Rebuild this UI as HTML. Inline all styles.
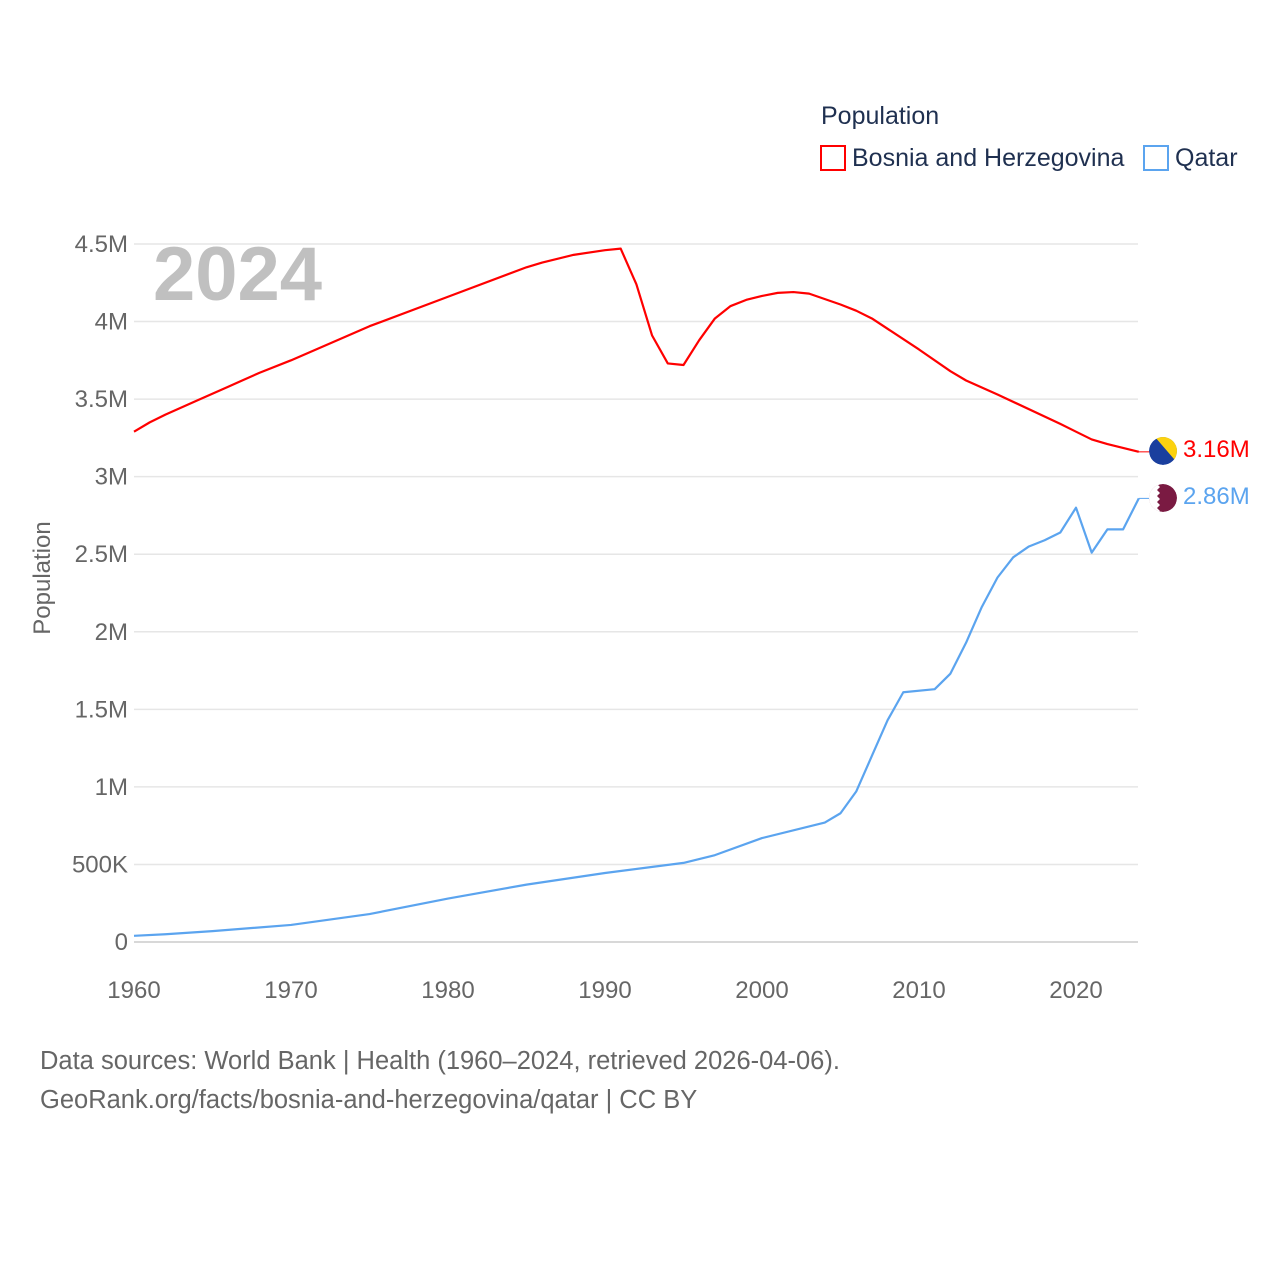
<!DOCTYPE html>
<html><head><meta charset="utf-8"><style>
body{margin:0;background:#fff;font-family:"Liberation Sans",sans-serif}
</style></head><body>
<svg width="1280" height="1280" viewBox="0 0 1280 1280" id="chart" style="font-family:'Liberation Sans',sans-serif">
<text x="821" y="124" font-size="25" fill="#1f3050">Population</text>
<g><rect x="821" y="146" width="24" height="24" fill="none" stroke="#ff0000" stroke-width="2"/><text x="852" y="166" font-size="25" fill="#1f3050">Bosnia and Herzegovina</text></g>
<g><rect x="1144" y="146" width="24" height="24" fill="none" stroke="#5ba4ef" stroke-width="2"/><text x="1175" y="166" font-size="25" fill="#1f3050">Qatar</text></g>
<text x="153" y="300" font-size="76" font-weight="bold" fill="#c0c0c0">2024</text>
<text transform="translate(50,578) rotate(-90)" text-anchor="middle" font-size="24" fill="#666">Population</text>
<g id="grid"></g><g id="series"></g>
<clipPath id="c1"><circle cx="1163" cy="451" r="14"/></clipPath>
<clipPath id="c2"><circle cx="1163" cy="498" r="14"/></clipPath>
<g clip-path="url(#c1)"><circle cx="1163" cy="451" r="14" fill="#1a3f9e"/><path d="M1155 437 L1180 437 L1180 466 Z" fill="#fcd20f"/></g>
<g clip-path="url(#c2)"><circle cx="1163" cy="498" r="14" fill="#7a1a42"/><path d="M1149 484 L1157 484 L1160 487 L1157 490 L1160 493 L1157 496 L1160 499 L1157 502 L1160 505 L1157 508 L1160 511 L1157 514 L1149 514 Z" fill="#fff"/></g>
<text x="1183" y="457" font-size="24" fill="#ff0000">3.16M</text>
<text x="1183" y="504" font-size="24" fill="#5ba4ef">2.86M</text>
<text x="40" y="1069" font-size="25.5" fill="#666">Data sources: World Bank | Health (1960–2024, retrieved 2026-04-06).</text>
<text x="40" y="1108" font-size="25.5" fill="#666">GeoRank.org/facts/bosnia-and-herzegovina/qatar | CC BY</text>
</svg>
<script>
const yTicks=[0,500000,1000000,1500000,2000000,2500000,3000000,3500000,4000000,4500000];
const yTickLabels=["0","500K","1M","1.5M","2M","2.5M","3M","3.5M","4M","4.5M"];
const xTicks=[1960,1970,1980,1990,2000,2010,2020];
const bosYears=[1960,1961,1962,1964,1966,1968,1970,1975,1980,1985,1986,1988,1990,1991,1992,1993,1994,1995,1996,1997,1998,1999,2000,2001,2002,2003,2005,2006,2007,2010,2012,2013,2015,2019,2020,2021,2022,2024];
const bosValues=[3.29,3.35,3.40,3.49,3.58,3.67,3.75,3.97,4.16,4.35,4.38,4.43,4.46,4.47,4.24,3.91,3.73,3.72,3.88,4.02,4.10,4.14,4.165,4.185,4.19,4.18,4.11,4.07,4.02,3.82,3.68,3.62,3.53,3.34,3.29,3.24,3.21,3.16];
const qatYears=[1960,1962,1965,1970,1975,1980,1985,1990,1995,1997,2000,2004,2005,2006,2007,2008,2009,2011,2012,2013,2014,2015,2016,2017,2018,2019,2020,2021,2022,2023,2024];
const qatValues=[0.04,0.05,0.07,0.11,0.18,0.28,0.37,0.445,0.51,0.56,0.67,0.77,0.83,0.97,1.2,1.43,1.61,1.63,1.73,1.93,2.16,2.35,2.48,2.55,2.59,2.64,2.80,2.51,2.66,2.66,2.86];
const NS="http://www.w3.org/2000/svg";
const x=y=>134+(y-1960)*(1076-134)/60;
const yv=v=>942-v*(942-244)/4500000;
const grid=document.getElementById('grid');
yTicks.forEach((t,i)=>{
 const l=document.createElementNS(NS,'line');
 l.setAttribute('x1',134);l.setAttribute('x2',1138);l.setAttribute('y1',yv(t));l.setAttribute('y2',yv(t));
 l.setAttribute('stroke',t===0?'#ccc':'#e6e6e6');l.setAttribute('stroke-width',1.5);
 
 
 grid.appendChild(l);
 const tx=document.createElementNS(NS,'text');
 tx.setAttribute('x',128);tx.setAttribute('y',yv(t)+8);tx.setAttribute('text-anchor','end');
 tx.setAttribute('font-size','24');tx.setAttribute('fill','#666');tx.textContent=yTickLabels[i];
 
 
 grid.appendChild(tx);
});
xTicks.forEach(t=>{
 const tx=document.createElementNS(NS,'text');
 tx.setAttribute('x',x(t));tx.setAttribute('y',998);tx.setAttribute('text-anchor','middle');
 tx.setAttribute('font-size','24');tx.setAttribute('fill','#666');tx.textContent=t;
 
 
 grid.appendChild(tx);
});
const ser=document.getElementById('series');
function line(ys,vs,col,name){
 const p=document.createElementNS(NS,'polyline');
 p.setAttribute('points',ys.map((yr,i)=>x(yr)+','+yv(vs[i]*1e6)).join(' '));
 p.setAttribute('fill','none');p.setAttribute('stroke',col);p.setAttribute('stroke-width',2.2);
 p.setAttribute('stroke-linejoin','round');
 
 
 ser.appendChild(p);
 const last=vs[vs.length-1];
 const d=document.createElementNS(NS,'line');
 d.setAttribute('x1',x(2024));d.setAttribute('x2',1150);d.setAttribute('y1',yv(last*1e6));d.setAttribute('y2',yv(last*1e6));
 d.setAttribute('stroke',col);d.setAttribute('stroke-width',1);
 
 
 ser.appendChild(d);
}
line(bosYears,bosValues,'#ff0000','bosnia-line');
line(qatYears,qatValues,'#5ba4ef','qatar-line');
</script>
</body></html>
